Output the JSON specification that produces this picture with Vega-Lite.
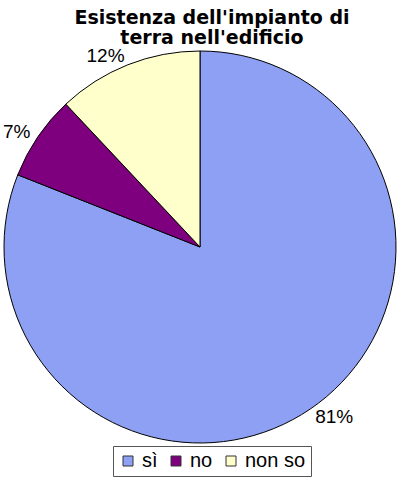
{
  "$schema": "https://vega.github.io/schema/vega-lite/v6.json",
  "width": 400,
  "height": 392,
  "autosize": {"type": "none"},
  "padding": {"top": 51, "bottom": 36, "left": 0, "right": 0},
  "background": "white",
  "title": {
    "text": ["Esistenza dell'impianto di", "terra nell'edificio"],
    "font": "DejaVu Sans",
    "fontSize": 19,
    "fontWeight": "bold",
    "color": "black",
    "anchor": "middle",
    "offset": 4,
    "dy": 5,
    "dx": 12,
    "lineHeight": 20
  },
  "data": {
    "values": [
      {"risposta": "sì", "percentuale": 81, "etichetta": "81%", "k": 1},
      {"risposta": "no", "percentuale": 7, "etichetta": "7%", "k": 2},
      {"risposta": "non so", "percentuale": 12, "etichetta": "12%", "k": 3}
    ]
  },
  "encoding": {
    "theta": {"field": "percentuale", "type": "quantitative", "stack": true},
    "order": {"field": "k", "type": "quantitative"},
    "color": {
      "field": "risposta",
      "type": "nominal",
      "scale": {"domain": ["sì", "no", "non so"], "range": ["#8EA0F4", "#7F007F", "#FFFFCC"]},
      "legend": {
        "title": null,
        "orient": "none",
        "legendX": 113,
        "legendY": 395,
        "direction": "horizontal",
        "symbolType": "square",
        "symbolSize": 100,
        "symbolStrokeColor": "#333333",
        "symbolStrokeWidth": 1,
        "labelFont": "Liberation Sans",
        "labelFontSize": 20,
        "labelColor": "black",
        "columnPadding": 8,
        "labelOffset": 4,
        "strokeColor": "#555555",
        "fillColor": "white",
        "padding": 5
      }
    }
  },
  "layer": [
    {
      "mark": {"type": "arc", "outerRadius": 196, "stroke": "black", "strokeWidth": 1}
    },
    {
      "mark": {"type": "text", "radius": 205, "align": "left", "font": "Liberation Sans", "fontSize": 19, "color": "black"},
      "encoding": {
        "text": {"condition": {"test": "datum.k == 1", "field": "etichetta"}, "value": ""},
        "color": {"value": "black"}
      }
    },
    {
      "mark": {"type": "text", "radius": 205, "align": "right", "font": "Liberation Sans", "fontSize": 19, "color": "black"},
      "encoding": {
        "text": {"condition": {"test": "datum.k != 1", "field": "etichetta"}, "value": ""},
        "color": {"value": "black"}
      }
    }
  ]
}
